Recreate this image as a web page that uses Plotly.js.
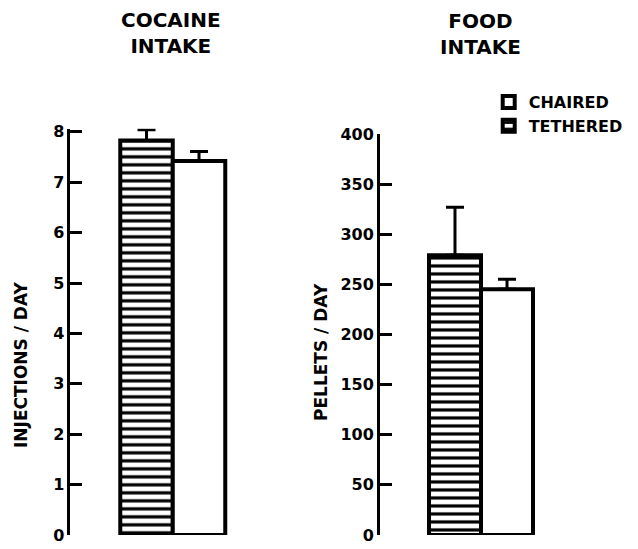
<!DOCTYPE html>
<html>
<head>
<meta charset="utf-8">
<script src="https://cdn.plot.ly/plotly-3.0.1.min.js"></script>
<style>html,body{margin:0;padding:0;background:#fff;}#chart{width:638px;height:549px;}</style>
</head>
<body>
<div id="chart"></div>
<script>
// Data
const groups = ["TETHERED", "CHAIRED"];
const cocaineMeans = [7.83, 7.42];     // injections / day
const cocaineErr = [0.21, 0.19];
const foodMeans = [279, 245];          // pellets / day
const foodErr = [48, 10];
const cocaineTicks = [0, 1, 2, 3, 4, 5, 6, 7, 8];
const foodTicks = [0, 50, 100, 150, 200, 250, 300, 350, 400];

const FONT = "DejaVu Sans";
const hatch = {shape: "-", fgcolor: "#000", bgcolor: "#fff", size: 8, solidity: 0.4};

function barTrace(i, means, errs, xa, ya, showLeg) {
  const tethered = i === 0;
  return {
    type: "bar",
    x: [i], y: [means[i]],
    width: 1,
    name: groups[i],
    xaxis: xa, yaxis: ya,
    showlegend: showLeg,
    legendrank: tethered ? 2 : 1,
    cliponaxis: false,
    marker: {
      color: "#fff",
      pattern: tethered ? hatch : {shape: ""},
      line: {color: "#000", width: 4}
    },
    error_y: {type: "data", symmetric: false, array: [errs[i]], arrayminus: [0],
              color: "#000", thickness: 3, width: 9},
    hoverinfo: "skip"
  };
}

const data = [
  barTrace(0, cocaineMeans, cocaineErr, "x", "y", false),
  barTrace(1, cocaineMeans, cocaineErr, "x", "y", false),
  barTrace(0, foodMeans, foodErr, "x2", "y2", true),
  barTrace(1, foodMeans, foodErr, "x2", "y2", true)
];

const yCommon = {
  showline: true, linewidth: 3, linecolor: "#000",
  ticks: "inside", ticklen: 12, tickwidth: 3, tickcolor: "#000",
  showgrid: false, zeroline: false, tickmode: "array",
  tickfont: {family: FONT, size: 16, color: "#000", weight: "bold"}
};

const layout = {
  width: 638, height: 549,
  margin: {l: 0, r: 0, t: 0, b: 0},
  paper_bgcolor: "#fff", plot_bgcolor: "rgba(0,0,0,0)",
  barmode: "overlay",
  xaxis: {domain: [0.1105, 0.3613], range: [-1.448, 1.6], visible: false, fixedrange: true},
  xaxis2: {domain: [0.5956, 0.8436], range: [-1.442, 1.6], visible: false, fixedrange: true},
  yaxis: Object.assign({}, yCommon, {domain: [0.0255, 0.7653], range: [0, 8.06],
          tickvals: cocaineTicks, ticktext: cocaineTicks.map(String), anchor: "x"}),
  yaxis2: Object.assign({}, yCommon, {domain: [0.0255, 0.756], range: [0, 400],
          tickvals: foodTicks, ticktext: foodTicks.map(String), anchor: "x2"}),
  showlegend: true,
  legend: {
    x: 0.766, y: 0.845, xanchor: "left", yanchor: "top",
    font: {family: FONT, size: 16, color: "#000", weight: "bold"},
    bgcolor: "rgba(0,0,0,0)", tracegroupgap: 0, traceorder: "normal"
  },
  annotations: [
    {text: "COCAINE<br>INTAKE", xref: "paper", yref: "paper", x: 171/638, y: 1 - 33/549,
     showarrow: false, xanchor: "center", yanchor: "middle",
     font: {family: FONT, size: 20, color: "#000", weight: "bold"}},
    {text: "FOOD<br>INTAKE", xref: "paper", yref: "paper", x: 480/638, y: 1 - 34/549,
     showarrow: false, xanchor: "center", yanchor: "middle",
     font: {family: FONT, size: 20, color: "#000", weight: "bold"}},
    {text: "INJECTIONS / DAY", xref: "paper", yref: "paper", x: 21/638, y: 1 - 365/549,
     showarrow: false, textangle: -90, xanchor: "center", yanchor: "middle",
     font: {family: FONT, size: 17, color: "#000", weight: "bold"}},
    {text: "PELLETS / DAY", xref: "paper", yref: "paper", x: 321/638, y: 1 - 352/549,
     showarrow: false, textangle: -90, xanchor: "center", yanchor: "middle",
     font: {family: FONT, size: 17, color: "#000", weight: "bold"}}
  ]
};

Plotly.newPlot("chart", data, layout, {staticPlot: true, displayModeBar: false});
</script>
</body>
</html>
